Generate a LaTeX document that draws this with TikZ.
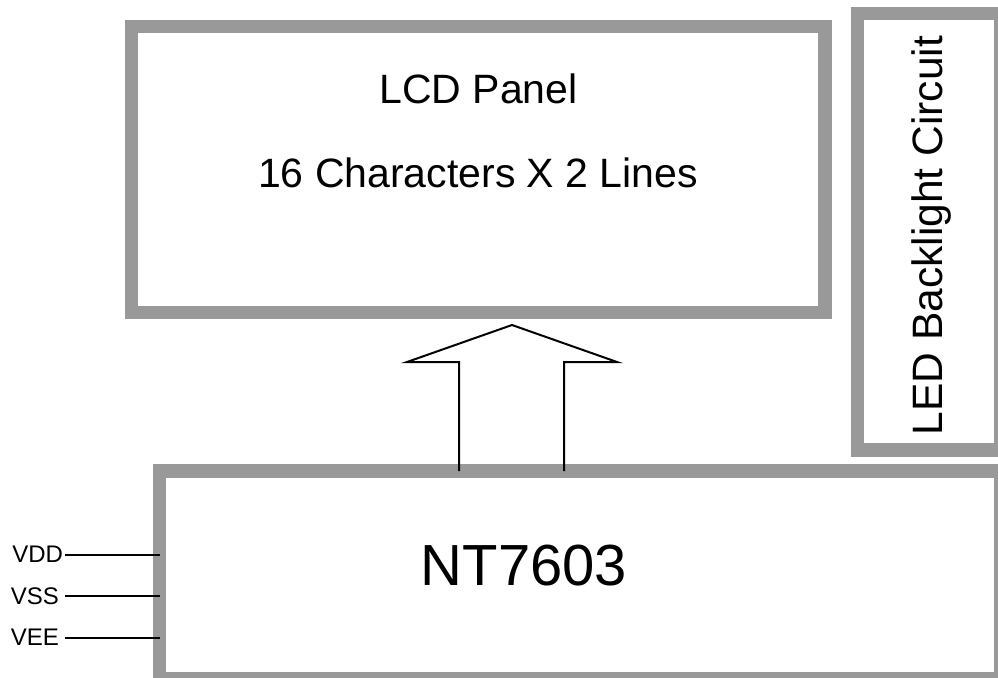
\documentclass[tikz,border=0pt]{standalone}
\usepackage{fontspec}
\setmainfont{Liberation Sans}
\definecolor{bordergrey}{HTML}{999999}
\begin{document}
\begin{tikzpicture}[x=1pt,y=-1pt,
  thickbox/.style={draw=bordergrey,line width=13.5pt,fill=none,inner sep=0pt,outer sep=0pt},
  lbl/.style={inner sep=0pt,outer sep=0pt},
  pin/.style={font=\fontsize{24}{24}\selectfont,inner sep=0pt,outer sep=0pt,anchor=east},
  wire/.style={draw=black,line width=2pt},
  bigarrow/.style={draw=black,line width=2pt,line join=miter}]
\useasboundingbox (0,0) rectangle (998,677);
% boxes
\node[thickbox,minimum width=693.5pt,minimum height=286pt] (lcd) at (478.25,169.5) {};
\node[thickbox,minimum width=143.25pt,minimum height=436.5pt] (led) at (929.125,231.75) {};
\node[thickbox,minimum width=841.25pt,minimum height=207.75pt] (nt) at (580.125,574.875) {};
% texts
\node[lbl,font=\fontsize{41}{41}\selectfont,anchor=base] (t1) at (478.5,103) {LCD Panel};
\node[lbl,font=\fontsize{41}{41}\selectfont,anchor=base] (t2) at (478,187) {16 Characters X 2 Lines};
\node[lbl,font=\fontsize{42.5}{42.5}\selectfont,anchor=base,rotate=90] (t3) at (942,235.5) {LED Backlight Circuit};
\node[lbl,font=\fontsize{58}{58}\selectfont,anchor=base] (t4) at (524,585) {NT7603};
% pins
\node[pin] (vdd) at (63,554.5) {VDD};
\node[pin] (vss) at (59,596) {VSS};
\node[pin] (vee) at (59,637.5) {VEE};
\draw[wire] ([xshift=2pt]vdd.east) -- (vdd.east -| nt.west);
\draw[wire] ([xshift=6pt]vss.east) -- (vss.east -| nt.west);
\draw[wire] ([xshift=6pt]vee.east) -- (vee.east -| nt.west);
% arrow
\coordinate (al) at (459,464);
\coordinate (ar) at (564,464);
\coordinate (tip) at (512,325);
\draw[bigarrow] (al |- nt.north) -- (459,362) -- (407,362) -- (tip) -- (617,362) -- (564,362) -- (ar |- nt.north);
\end{tikzpicture}
\end{document}
